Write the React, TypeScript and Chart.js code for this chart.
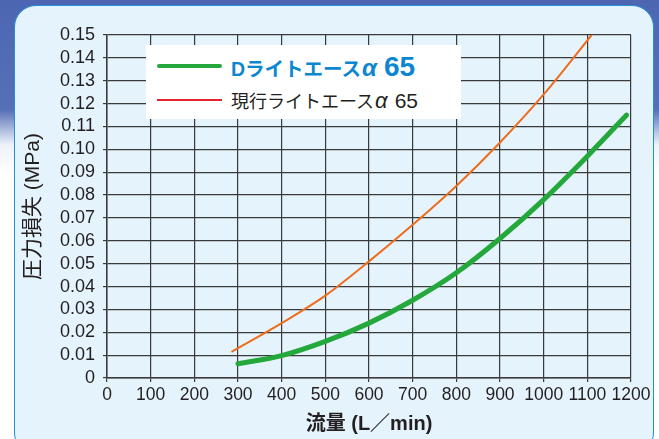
import React, { useEffect, useRef } from "react";
import { Chart, registerables } from "chart.js";

Chart.register(...registerables);

// ---- data ----
const flowNew = [300, 400, 500, 600, 700, 800, 900, 1000, 1100, 1190];
const lossNew = [0.0062, 0.0098, 0.016, 0.024, 0.034, 0.046, 0.061, 0.078, 0.097, 0.115];
const flowOld = [285, 400, 500, 600, 700, 800, 900, 1000, 1110];
const lossOld = [0.0114, 0.024, 0.036, 0.051, 0.067, 0.084, 0.103, 0.124, 0.15];
const seriesNames = ["Dライトエースα", "現行ライトエースα"];
const seriesSuffix = ["65", "65"];
const xTitle = "流量 (L／min)";
const yTitle = "圧力損失 (MPa)";
const xRange = [0, 1200, 100];
const yRange = [0, 0.15, 0.01];

const FONT = '"Liberation Sans", "Noto Sans CJK JP", sans-serif';
const GREEN = "#25a83b";
const ORANGE = "#ee6d1c";
const LEGEND_RED = "#e2232c";
const BLUE_TEXT = "#0b86d0";
const INK = "#231f20";
const GRID = "#3a3a3a";

function LegendName({ name, suffix, base, big, bigger }: any) {
  const head = name.slice(0, -1);
  const alpha = name.slice(-1);
  return (
    <>
      <span style={{ fontSize: base }}>{head}</span>
      <span style={{ fontSize: big, fontStyle: "italic", marginLeft: 1 }}>{alpha}</span>
      <span style={{ fontSize: bigger, marginLeft: 7 }}>{suffix}</span>
    </>
  );
}

export default function App() {
  const canvasRef = useRef<HTMLCanvasElement | null>(null);

  useEffect(() => {
    const canvas = canvasRef.current;
    if (!canvas) return;
    const chart = new Chart(canvas, {
      type: "line",
      data: {
        datasets: [
          {
            label: seriesNames[1] + " " + seriesSuffix[1],
            data: flowOld.map((x, i) => ({ x, y: lossOld[i] })),
            borderColor: ORANGE,
            borderWidth: 2,
            pointRadius: 0,
            cubicInterpolationMode: "monotone",
            fill: false,
          },
          {
            label: seriesNames[0] + " " + seriesSuffix[0],
            data: flowNew.map((x, i) => ({ x, y: lossNew[i] })),
            borderColor: GREEN,
            borderWidth: 5,
            borderCapStyle: "round",
            pointRadius: 0,
            cubicInterpolationMode: "monotone",
            fill: false,
          },
        ],
      },
      options: {
        animation: false,
        responsive: false,
        devicePixelRatio: 1,
        layout: { padding: { top: 35, right: 28, left: 0, bottom: 0 } },
        plugins: {
          legend: { display: false },
          tooltip: { enabled: false },
        },
        scales: {
          x: {
            type: "linear",
            min: xRange[0],
            max: xRange[1],
            afterFit: (s: any) => {
              s.height = 61;
            },
            ticks: {
              stepSize: xRange[2],
              color: INK,
              padding: 3,
              font: { family: FONT, size: 17.5 },
              maxRotation: 0,
              autoSkip: false,
              callback: (v: any) => String(v),
            },
            grid: { color: GRID, lineWidth: 1.2, tickLength: 4 },
            border: { color: GRID, width: 1.5 },
            title: {
              display: true,
              text: xTitle,
              color: INK,
              font: { family: FONT, size: 20, weight: "bold" },
              padding: { top: 0, bottom: 3 },
            },
          },
          y: {
            type: "linear",
            min: yRange[0],
            max: yRange[1],
            afterFit: (s: any) => {
              s.width = 107;
            },
            ticks: {
              stepSize: yRange[2],
              color: INK,
              padding: 8,
              font: { family: FONT, size: 18 },
              autoSkip: false,
              callback: (v: any) => (Number(v) === 0 ? "0" : Number(v).toFixed(2)),
            },
            grid: { color: GRID, lineWidth: 1.2, tickLength: 4 },
            border: { color: GRID, width: 1.5 },
            title: {
              display: true,
              text: yTitle,
              color: INK,
              font: { family: FONT, size: 21 },
              padding: { top: 21, bottom: 0 },
            },
          },
        },
      },
    } as any);
    return () => chart.destroy();
  }, []);

  return (
    <div
      style={{
        position: "absolute",
        left: 0,
        top: 0,
        width: 659,
        height: 439,
        overflow: "hidden",
        background:
          "linear-gradient(to bottom, #4d66b2 0%, #5670b7 25%, #eef3fa 33%, #ffffff 40%, #ffffff 100%)",
        fontFamily: FONT,
      }}
    >
      <div
        style={{
          position: "absolute",
          left: 14,
          top: 5,
          width: 640,
          height: 450,
          borderRadius: 22,
          border: "1.5px solid #2190d8",
          background: "#e4f3fc",
          boxSizing: "border-box",
        }}
      />
      <canvas
        ref={canvasRef}
        width={659}
        height={439}
        style={{ position: "absolute", left: 0, top: 0, width: 659, height: 439 }}
      />
      <div
        style={{
          position: "absolute",
          left: 146,
          top: 45,
          width: 315,
          height: 74,
          background: "#ffffff",
        }}
      >
        <div
          style={{
            position: "absolute",
            left: 11,
            top: 19,
            width: 65,
            height: 4,
            borderRadius: 2,
            background: GREEN,
          }}
        />
        <div
          style={{
            position: "absolute",
            left: 85,
            top: 5,
            height: 34,
            lineHeight: "34px",
            whiteSpace: "nowrap",
            color: BLUE_TEXT,
            fontWeight: "bold",
          }}
        >
          <LegendName name={seriesNames[0]} suffix={seriesSuffix[0]} base={19.5} big={24} bigger={28} />
        </div>
        <div
          style={{
            position: "absolute",
            left: 11,
            top: 54,
            width: 65,
            height: 2,
            background: LEGEND_RED,
          }}
        />
        <div
          style={{
            position: "absolute",
            left: 85,
            top: 42,
            height: 28,
            lineHeight: "28px",
            whiteSpace: "nowrap",
            color: INK,
          }}
        >
          <LegendName name={seriesNames[1]} suffix={seriesSuffix[1]} base={18} big={22} bigger={21} />
        </div>
      </div>
    </div>
  );
}
